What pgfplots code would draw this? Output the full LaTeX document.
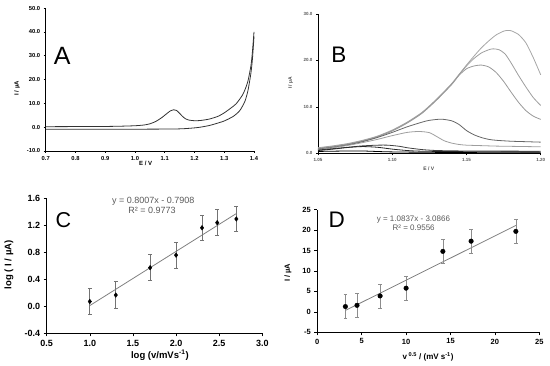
\documentclass[border=0pt]{standalone}
\usepackage{fontspec}
\setmainfont{Liberation Sans}
\usepackage{pgfplots}
\pgfplotsset{compat=1.18}
\pgfplotsset{
  panel/.style={scale only axis, axis lines=left,
    axis line style={-, black, line width=0.8bp},
    tick align=outside, major tick length=2.5bp,
    tick style={black, line width=0.6bp},
    /pgf/number format/assume math mode=true,
    clip=false},
}
\begin{document}
\begin{tikzpicture}
\useasboundingbox (0,0) rectangle (550bp,366bp);
% ---------------- Panel A
\begin{axis}[panel, at={(45.7bp,215bp)}, anchor=south west,
  width=208.3bp, height=143bp,
  xmin=0.7, xmax=1.4, ymin=-10, ymax=50,
  xtick={0.7,0.8,...,1.41}, ytick={-10,0,...,50},
  major tick length=2bp,
  xticklabel style={font=\fontsize{5.8bp}{6bp}\selectfont\bfseries, /pgf/number format/.cd, fixed, fixed zerofill, precision=1},
  yticklabel style={font=\fontsize{5.8bp}{6bp}\selectfont\bfseries, /pgf/number format/.cd, fixed, fixed zerofill, precision=1},
  xlabel={E / V}, ylabel={I / µA},
  xlabel style={at={(axis description cs:0.48,-0.084)}, anchor=center, font=\fontsize{6bp}{7bp}\selectfont\bfseries},
  ylabel style={at={(axis description cs:-0.138,0.438)}, anchor=center, font=\fontsize{6bp}{7bp}\selectfont\bfseries},
]
\addplot[color=black!80, line width=0.8bp, smooth, tension=0.4] coordinates {
(0.70,0.2) (0.80,0.25) (0.90,0.3) (0.95,0.4) (1.00,0.6) (1.03,0.9) (1.05,1.4) (1.07,2.4) (1.09,4.0) (1.11,6.0) (1.12,6.9) (1.13,7.3) (1.14,7.0) (1.15,5.8) (1.16,4.5) (1.17,3.5) (1.18,3.0) (1.20,2.7) (1.22,2.8) (1.25,3.4) (1.28,4.6) (1.30,6.0) (1.32,7.8) (1.34,9.8) (1.36,13.2) (1.37,15.8) (1.38,19.5) (1.39,26) (1.395,32) (1.40,40)};
\addplot[color=black!80, line width=0.8bp, smooth, tension=0.4] coordinates {
(1.40,38) (1.395,29) (1.39,23) (1.38,15.5) (1.37,11.0) (1.36,8.5) (1.35,6.6) (1.33,4.5) (1.30,2.6) (1.27,1.4) (1.25,0.7) (1.22,0.0) (1.20,-0.3) (1.17,-0.6) (1.14,-0.75) (1.10,-0.8) (1.00,-0.85) (0.90,-0.85) (0.70,-0.9)};
\end{axis}
% ---------------- Panel B
\begin{axis}[panel, at={(318bp,212.7bp)}, anchor=south west,
  width=222.7bp, height=139.3bp,
  xmin=1.05, xmax=1.20, ymin=0, ymax=30,
  xtick={1.05,1.10,1.15,1.20}, ytick={0,10,20,30},
  major tick length=2bp,
  axis line style={-, black, line width=0.7bp},
  xticklabel style={font=\fontsize{4.5bp}{5bp}\selectfont\bfseries, text=black!65, /pgf/number format/.cd, fixed, fixed zerofill, precision=2},
  yticklabel style={font=\fontsize{4.5bp}{5bp}\selectfont\bfseries, text=black!65, /pgf/number format/.cd, fixed, fixed zerofill, precision=1},
  xlabel={E / V}, ylabel={I / µA},
  xlabel style={at={(axis description cs:0.498,-0.113)}, anchor=center, font=\fontsize{5bp}{6bp}\selectfont\bfseries, text=black!70},
  ylabel style={at={(axis description cs:-0.123,0.505)}, anchor=center, font=\fontsize{5bp}{6bp}\selectfont\bfseries, text=black!70},
]
% curve 1
\addplot[color=black!35, line width=0.8bp, smooth, tension=0.4] coordinates {
(1.05,1.2) (1.06,1.6) (1.07,2.1) (1.08,2.8) (1.09,3.7) (1.10,5.0) (1.11,6.7) (1.12,8.8) (1.13,11.7) (1.14,15.0) (1.145,17.0) (1.15,19.0) (1.155,20.9) (1.16,22.7) (1.165,24.2) (1.17,25.5) (1.175,26.3) (1.1775,26.45) (1.18,26.4) (1.185,25.6) (1.19,23.8) (1.195,20.6) (1.20,16.9)};
% curve 2
\addplot[color=black!38, line width=0.8bp, smooth, tension=0.4] coordinates {
(1.05,1.1) (1.06,1.5) (1.07,2.0) (1.08,2.7) (1.09,3.6) (1.10,4.9) (1.11,6.6) (1.12,8.7) (1.13,11.6) (1.14,14.9) (1.145,16.9) (1.15,18.8) (1.155,20.4) (1.16,21.6) (1.165,22.3) (1.168,22.5) (1.172,22.3) (1.176,21.4) (1.18,19.5) (1.185,16.8) (1.19,14.3) (1.195,12.0) (1.20,10.3)};
% curve 3
\addplot[color=black!40, line width=0.8bp, smooth, tension=0.4] coordinates {
(1.05,1.0) (1.06,1.4) (1.07,1.9) (1.08,2.6) (1.09,3.5) (1.10,4.8) (1.11,6.5) (1.12,8.6) (1.13,11.5) (1.14,14.8) (1.145,16.8) (1.15,18.2) (1.155,18.8) (1.16,19.0) (1.165,18.6) (1.17,17.4) (1.175,15.5) (1.18,13.2) (1.185,11.0) (1.19,9.2) (1.195,8.0) (1.20,7.3)};
% curve 4
\addplot[color=black!60, line width=0.8bp, smooth, tension=0.4] coordinates {
(1.05,0.9) (1.06,1.3) (1.07,1.8) (1.08,2.5) (1.09,3.4) (1.10,4.5) (1.11,5.7) (1.12,6.7) (1.125,7.1) (1.133,7.35) (1.14,7.0) (1.145,6.2) (1.15,4.9) (1.155,4.0) (1.16,3.4) (1.165,3.0) (1.17,2.8) (1.18,2.6) (1.19,2.5) (1.20,2.4)};
% curve 5
\addplot[color=black!38, line width=0.8bp, smooth, tension=0.4] coordinates {
(1.05,0.8) (1.06,1.2) (1.07,1.7) (1.08,2.3) (1.09,3.0) (1.10,3.8) (1.11,4.5) (1.118,4.7) (1.125,4.45) (1.13,3.6) (1.135,2.7) (1.14,2.2) (1.145,1.9) (1.15,1.75) (1.16,1.65) (1.17,1.55) (1.18,1.5) (1.19,1.45) (1.20,1.4)};
% curve 6
\addplot[color=black!75, line width=0.8bp, smooth, tension=0.4] coordinates {
(1.05,0.7) (1.06,1.0) (1.07,1.3) (1.08,1.6) (1.09,1.75) (1.097,1.75) (1.105,1.5) (1.11,1.2) (1.12,0.8) (1.13,0.6) (1.15,0.5) (1.20,0.45)};
% curve 7
\addplot[color=black!85, line width=0.8bp, smooth, tension=0.4] coordinates {
(1.05,0.6) (1.06,0.9) (1.07,1.25) (1.08,1.45) (1.09,1.3) (1.10,0.9) (1.11,0.6) (1.12,0.45) (1.15,0.35) (1.20,0.3)};
% curve 8
\addplot[color=black, line width=0.8bp, smooth, tension=0.4] coordinates {
(1.05,0.4) (1.07,0.5) (1.08,0.5) (1.10,0.3) (1.15,0.15) (1.20,0.1)};
\end{axis}
% ---------------- Panel C
\begin{axis}[panel, at={(46.7bp,32.7bp)}, anchor=south west,
  width=215.6bp, height=135.3bp,
  xmin=0.5, xmax=3.0, ymin=-0.4, ymax=1.6,
  xtick={0.5,1.0,...,3.01}, ytick={-0.4,0,0.4,0.8,1.2,1.6},
  major tick length=3bp,
  xticklabel style={font=\fontsize{9bp}{10bp}\selectfont\bfseries, /pgf/number format/.cd, fixed, fixed zerofill, precision=1},
  yticklabel style={font=\fontsize{9bp}{10bp}\selectfont\bfseries, /pgf/number format/.cd, fixed, fixed zerofill, precision=1},
  xlabel={log (v/mVs\textsuperscript{-1})}, ylabel={log ( I / µA)},
  xlabel style={at={(axis description cs:0.525,-0.163)}, anchor=center, font=\fontsize{9.5bp}{10bp}\selectfont\bfseries},
  ylabel style={at={(axis description cs:-0.175,0.507)}, anchor=center, font=\fontsize{9.5bp}{10bp}\selectfont\bfseries},
]
\addplot[color=black!50, line width=0.8bp] coordinates {(1.0,0.0099) (2.699,1.3703)};
\addplot[only marks, mark=diamond*, mark size=2.3bp, black,
  error bars/.cd, y dir=both, y explicit,
  error bar style={black!55, line width=0.8bp},
  error mark options={rotate=90, black!55, mark size=2bp, line width=0.8bp}]
  table[x=x, y=y, y error=e] {
x y e
1.000 0.070 0.19
1.301 0.165 0.195
1.699 0.570 0.195
2.000 0.755 0.195
2.301 1.160 0.19
2.477 1.235 0.19
2.699 1.290 0.19
};
\node[font=\fontsize{9bp}{10bp}\selectfont, text=black!65] at (axis description cs:0.494,0.973) {y = 0.8007x - 0.7908};
\node[font=\fontsize{9bp}{10bp}\selectfont, text=black!65] at (axis description cs:0.488,0.906) {R² = 0.9773};
\end{axis}
% ---------------- Panel D
\begin{axis}[panel, at={(317.3bp,33.7bp)}, anchor=south west,
  width=222bp, height=122.6bp,
  xmin=0, xmax=25, ymin=-5, ymax=25,
  xtick={0,5,...,25}, ytick={-5,0,...,25},
  major tick length=3bp,
  xticklabel style={font=\fontsize{7.5bp}{8bp}\selectfont\bfseries},
  yticklabel style={font=\fontsize{7.5bp}{8bp}\selectfont\bfseries},
  xlabel={v\textsuperscript{ 0.5} / (mV s\textsuperscript{-1})}, ylabel={I / µA},
  xlabel style={at={(axis description cs:0.499,-0.2)}, anchor=center, font=\fontsize{8bp}{9bp}\selectfont\bfseries},
  ylabel style={at={(axis description cs:-0.132,0.484)}, anchor=center, font=\fontsize{7.5bp}{8bp}\selectfont\bfseries},
]
\addplot[color=black!50, line width=0.8bp] coordinates {(3.162,0.340) (22.36,21.145)};
\addplot[only marks, mark=*, mark size=2.3bp, black,
  error bars/.cd, y dir=both, y explicit,
  error bar style={black!45, line width=0.7bp},
  error mark options={rotate=90, black!45, mark size=1.8bp, line width=0.7bp}]
  table[x=x, y=y, y error=e] {
x y e
3.162 1.3 2.95
4.472 1.6 3.0
7.071 3.9 2.95
10.00 5.8 2.95
14.14 14.8 2.95
17.32 17.3 2.95
22.36 19.7 2.95
};
\node[font=\fontsize{8bp}{9bp}\selectfont, text=black!65] at (axis description cs:0.433,0.92) {y = 1.0837x - 3.0866};
\node[font=\fontsize{8bp}{9bp}\selectfont, text=black!65] at (axis description cs:0.434,0.855) {R² = 0.9556};
\end{axis}
% panel letters
\node[font=\fontsize{25bp}{26bp}\selectfont] at (62.2bp,310.3bp) {A};
\node[font=\fontsize{22.5bp}{24bp}\selectfont] at (338.8bp,311.3bp) {B};
\node[font=\fontsize{21.5bp}{23bp}\selectfont] at (63.3bp,145.7bp) {C};
\node[font=\fontsize{22.5bp}{24bp}\selectfont] at (336.7bp,146.7bp) {D};
\end{tikzpicture}
\end{document}
